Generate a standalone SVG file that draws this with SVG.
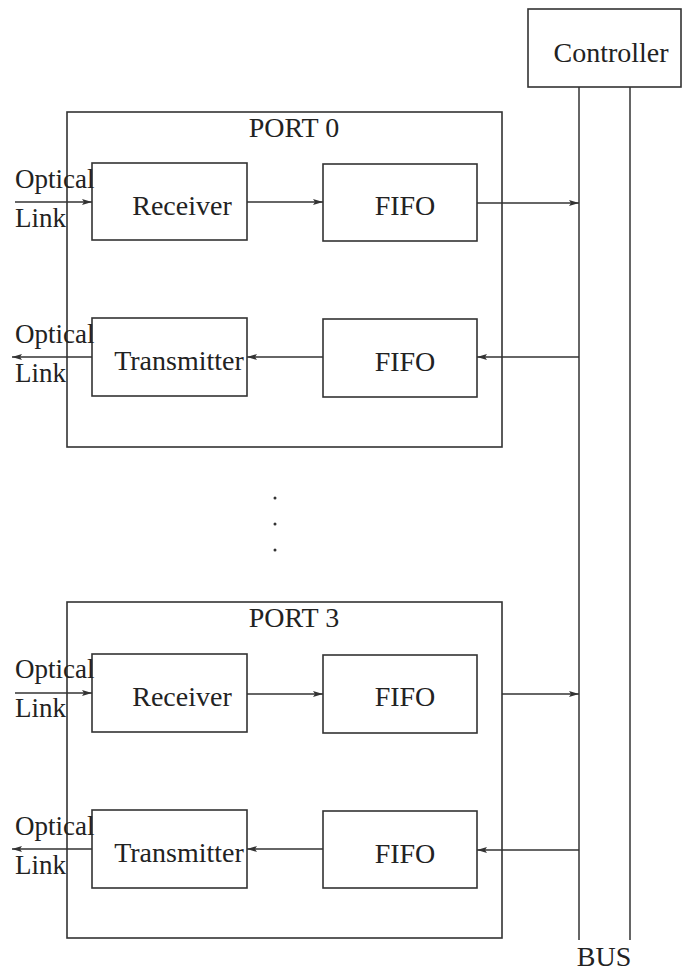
<svg xmlns="http://www.w3.org/2000/svg" width="686" height="978" viewBox="0 0 686 978">
  <defs>
    <marker id="arrow" viewBox="0 0 10 6" refX="10" refY="3" markerWidth="10" markerHeight="7" markerUnits="userSpaceOnUse" orient="auto">
      <path d="M0,0 L10,3 L0,6 L2,3 Z" fill="#333"/>
    </marker>
    <style>
      .box { fill: none; stroke: #333; stroke-width: 1.6; }
      .wire { fill: none; stroke: #333; stroke-width: 1.5; }
      .arr { fill: none; stroke: #333; stroke-width: 1.5; marker-end: url(#arrow); }
      text { font-family: "Liberation Serif", "Times New Roman", serif; font-size: 28px; fill: #222; }
      .lbl { font-size: 27px; }
    </style>
  </defs>
  <rect width="686" height="978" fill="#fff"/>

  <!-- Controller and bus -->
  <g id="controller">
    <rect class="box" x="528" y="9" width="153" height="78"/>
    <text x="611" y="62" text-anchor="middle">Controller</text>
  </g>
  <g id="bus">
    <line class="wire" x1="579" y1="87" x2="579" y2="940"/>
    <line class="wire" x1="630" y1="87" x2="630" y2="940"/>
    <text x="604" y="966" text-anchor="middle">BUS</text>
  </g>

  <!-- Port 0 -->
  <g id="port0">
    <rect class="box" x="67" y="112" width="435" height="335"/>
    <text x="294" y="137" text-anchor="middle">PORT 0</text>
  </g>
  <g id="port0-receiver">
    <rect class="box" x="92" y="163" width="155" height="77"/>
    <text x="182" y="215" text-anchor="middle">Receiver</text>
  </g>
  <g id="port0-fifo-in">
    <rect class="box" x="323" y="164" width="154" height="77"/>
    <text x="405" y="215" text-anchor="middle">FIFO</text>
  </g>
  <g id="port0-transmitter">
    <rect class="box" x="92" y="318" width="155" height="78"/>
    <text x="179" y="370" text-anchor="middle">Transmitter</text>
  </g>
  <g id="port0-fifo-out">
    <rect class="box" x="323" y="319" width="154" height="78"/>
    <text x="405" y="371" text-anchor="middle">FIFO</text>
  </g>
  <g id="port0-links">
    <text class="lbl" x="15" y="188">Optical</text>
    <text class="lbl" x="15" y="227">Link</text>
    <text class="lbl" x="15" y="343">Optical</text>
    <text class="lbl" x="15" y="382">Link</text>
  </g>

  <!-- Ellipsis between ports -->
  <g id="ellipsis" fill="#333">
    <circle cx="275" cy="498" r="1.5"/>
    <circle cx="275" cy="524" r="1.5"/>
    <circle cx="275" cy="550" r="1.5"/>
  </g>

  <!-- Port 3 -->
  <g id="port3">
    <rect class="box" x="67" y="602" width="435" height="336"/>
    <text x="294" y="627" text-anchor="middle">PORT 3</text>
  </g>
  <g id="port3-receiver">
    <rect class="box" x="92" y="654" width="155" height="78"/>
    <text x="182" y="706" text-anchor="middle">Receiver</text>
  </g>
  <g id="port3-fifo-in">
    <rect class="box" x="323" y="655" width="154" height="78"/>
    <text x="405" y="706" text-anchor="middle">FIFO</text>
  </g>
  <g id="port3-transmitter">
    <rect class="box" x="92" y="810" width="155" height="78"/>
    <text x="179" y="862" text-anchor="middle">Transmitter</text>
  </g>
  <g id="port3-fifo-out">
    <rect class="box" x="323" y="811" width="154" height="77"/>
    <text x="405" y="863" text-anchor="middle">FIFO</text>
  </g>
  <g id="port3-links">
    <text class="lbl" x="15" y="678">Optical</text>
    <text class="lbl" x="15" y="717">Link</text>
    <text class="lbl" x="15" y="835">Optical</text>
    <text class="lbl" x="15" y="874">Link</text>
  </g>

  <!-- Connectors -->
  <g id="connectors">
    <line class="arr" x1="15" y1="202" x2="92" y2="202"/>
    <line class="arr" x1="247" y1="202" x2="323" y2="202"/>
    <line class="arr" x1="477" y1="203" x2="579" y2="203"/>
    <line class="arr" x1="579" y1="357" x2="477" y2="357"/>
    <line class="arr" x1="323" y1="357" x2="247" y2="357"/>
    <line class="arr" x1="92" y1="357" x2="12" y2="357"/>

    <line class="arr" x1="15" y1="693" x2="92" y2="693"/>
    <line class="arr" x1="247" y1="694" x2="323" y2="694"/>
    <line class="arr" x1="502" y1="694" x2="579" y2="694"/>
    <line class="arr" x1="579" y1="850" x2="477" y2="850"/>
    <line class="arr" x1="323" y1="849" x2="247" y2="849"/>
    <line class="arr" x1="92" y1="849" x2="12" y2="849"/>
  </g>
</svg>
